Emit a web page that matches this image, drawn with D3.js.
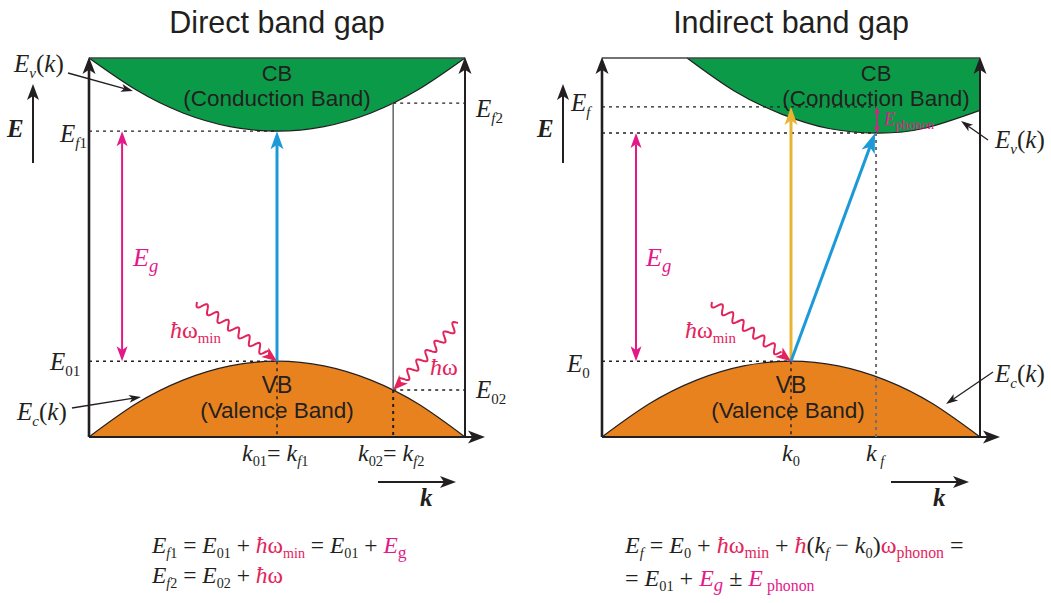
<!DOCTYPE html>
<html><head><meta charset="utf-8">
<script src="https://cdn.jsdelivr.net/npm/d3@7"></script>
<style>html,body{margin:0;padding:0;background:#fff}svg{display:block}</style>
</head><body>
<svg id="c" width="1051" height="603"></svg>
<script>
// ---------- data (k normalised 0..1 per panel, E normalised 0..1) ----------
const titles = ["Direct band gap", "Indirect band gap"];
const kGrid = [0, 0.125, 0.25, 0.375, 0.5, 0.625, 0.75, 0.875, 1];
const cbDirectE = [1.0, 0.916, 0.855, 0.819, 0.807, 0.819, 0.855, 0.916, 1.0];
const vbE = [0, 0.0875, 0.15, 0.1875, 0.2, 0.1875, 0.15, 0.0875, 0];
const cbIndirectK = [0.225, 0.35, 0.475, 0.6, 0.725, 0.85, 1.0];
const cbIndirectE = [1.0, 0.913, 0.852, 0.814, 0.802, 0.814, 0.862];
const directK = [0.5, 0.809];        // k01 = kf1, k02 = kf2
const directEf = [0.807, 0.881];     // Ef1, Ef2
const directE0 = [0.2, 0.124];       // E01, E02
const indirectK = [0.5, 0.725];      // k0, kf
const indirectE = [0.2, 0.871, 0.802]; // E0, Ef, CB minimum

// ---------- setup ----------
const svg = d3.select("#c");
const SERIF = "'Liberation Serif','Times New Roman',serif";
const SANS = "'Liberation Sans',Arial,sans-serif";
const INK = "#231f20";
const GREEN = "#0b9a48", ORANGE = "#e8821e", BLUE = "#1c9ad8", YELLOW = "#e9b432";
const MAG = "#e3198a", RED = "#e3245c";

const y = d3.scaleLinear().domain([0, 1]).range([437, 58]);
const xs = [d3.scaleLinear().domain([0, 1]).range([89, 465]),
            d3.scaleLinear().domain([0, 1]).range([602, 980])];

function head(g, tx, ty, dx, dy, len, wid, color) {
  const L = Math.hypot(dx, dy), ux = dx / L, uy = dy / L, nx = -uy, ny = ux;
  const bx = tx - ux * len, by = ty - uy * len;
  const mx = tx - ux * len * 0.75, my = ty - uy * len * 0.75;
  g.append("path").attr("d", `M${tx},${ty}L${bx + nx * wid / 2},${by + ny * wid / 2}L${mx},${my}L${bx - nx * wid / 2},${by - ny * wid / 2}Z`)
    .attr("fill", color);
  return [mx, my];
}
function arrow(g, x0, y0, x1, y1, color, w, len, wid) {
  const [mx, my] = head(g, x1, y1, x1 - x0, y1 - y0, len, wid, color);
  g.append("line").attr("x1", x0).attr("y1", y0).attr("x2", mx).attr("y2", my)
    .attr("stroke", color).attr("stroke-width", w);
}
function dbl(g, x0, y0, x1, y1, color, w, len, wid) {
  const [ax, ay] = head(g, x0, y0, x0 - x1, y0 - y1, len, wid, color);
  const [bx, by] = head(g, x1, y1, x1 - x0, y1 - y0, len, wid, color);
  g.append("line").attr("x1", ax).attr("y1", ay).attr("x2", bx).attr("y2", by)
    .attr("stroke", color).attr("stroke-width", w);
}
function dashed(g, x0, y0, x1, y1, color, w) {
  g.append("line").attr("x1", x0).attr("y1", y0).attr("x2", x1).attr("y2", y1)
    .attr("stroke", color || INK).attr("stroke-width", w || 1.4).attr("stroke-dasharray", "3,4");
}
function wave(g, x0, y0, x1, y1, color) {
  const dx = x1 - x0, dy = y1 - y0, L = Math.hypot(dx, dy);
  const ux = dx / L, uy = dy / L, nx = -uy, ny = ux;
  const hl = 15, Lw = L - hl + 2, pts = [];
  for (let s = 0; s <= Lw; s += 0.5) {
    const a = 4.2 * Math.sin(2 * Math.PI * s / 13);
    pts.push([x0 + ux * s + nx * a, y0 + uy * s + ny * a]);
  }
  g.append("path").attr("d", d3.line()(pts)).attr("fill", "none").attr("stroke", color).attr("stroke-width", 2);
  head(g, x1, y1, dx, dy, hl, 12, color);
}
// rich text: parts = {t, i italic, b bold, s subscript, ss sub scale, c colour}
function rich(g, x, yy, size, parts, anchor) {
  const t = g.append("text").attr("x", x).attr("y", yy).attr("font-family", SERIF)
    .attr("font-size", size).attr("fill", INK).attr("text-anchor", anchor || "start");
  let shift = 0;
  const subDy = size * 0.22;
  parts.forEach(p => {
    const ts = t.append("tspan").text(p.t);
    const target = p.s ? subDy : 0;
    if (target !== shift) { ts.attr("dy", target - shift); shift = target; }
    if (p.s) ts.attr("font-size", size * (p.ss || 0.6));
    if (p.i) ts.attr("font-style", "italic");
    if (p.b) ts.attr("font-weight", "bold");
    if (p.c) ts.attr("fill", p.c);
    if (p.dx) ts.attr("dx", p.dx);
  });
  return t;
}
function sans(g, x, yy, size, txt) {
  g.append("text").attr("x", x).attr("y", yy).attr("font-family", SANS).attr("font-size", size)
    .attr("fill", INK).attr("text-anchor", "middle").text(txt);
}
const HBAR = c => [{ t: "ħ", i: 1, c: c }, { t: "ω", c: c }];

const g = svg.append("g");

// ---------- bands ----------
const cbSets = [kGrid.map((k, i) => [k, cbDirectE[i]]), cbIndirectK.map((k, i) => [k, cbIndirectE[i]])];
const vbSet = kGrid.map((k, i) => [k, vbE[i]]);
[0, 1].forEach(p => {
  const x = xs[p];
  const cbArea = d3.area().x(d => x(d[0])).y0(y(1)).y1(d => y(d[1])).curve(d3.curveNatural);
  const vbArea = d3.area().x(d => x(d[0])).y0(y(0)).y1(d => y(d[1])).curve(d3.curveNatural);
  const ln = d3.line().x(d => x(d[0])).y(d => y(d[1])).curve(d3.curveNatural);
  g.append("path").attr("d", cbArea(cbSets[p])).attr("fill", GREEN);
  g.append("path").attr("d", ln(cbSets[p])).attr("fill", "none").attr("stroke", INK).attr("stroke-width", 1.2);
  g.append("path").attr("d", vbArea(vbSet)).attr("fill", ORANGE);
  g.append("path").attr("d", ln(vbSet)).attr("fill", "none").attr("stroke", INK).attr("stroke-width", 1.2);

  // frame
  g.append("line").attr("x1", x(0)).attr("x2", x(1)).attr("y1", y(1)).attr("y2", y(1)).attr("stroke", "#444").attr("stroke-width", 1.3);
  arrow(g, x(0), y(0), x(0), y(1) - 1, INK, 2.6, 17, 13);
  arrow(g, x(1), y(0), x(1), y(1) - 1, INK, 2, 17, 13);
  arrow(g, x(0), y(0), x(1) + 20, y(0), INK, 2, 17, 13);

  // titles & band labels
  sans(g, p === 0 ? 277 : 791, 33, 30.5, titles[p]);
  const cbX = p === 0 ? x(0.5) : x(indirectK[1]);
  sans(g, cbX, 81, 22, "CB");
  sans(g, cbX, 106, 22.5, "(Conduction Band)");
  sans(g, x(0.5), 393, 23, "VB");
  sans(g, x(0.5) - (p === 0 ? 0 : 3), 418, 22.5, "(Valence Band)");

  // E axis arrow
  const ex = p === 0 ? 33 : 563;
  arrow(g, ex, 163, ex, 84, INK, 2, 16, 12);
  rich(g, ex - 26, 137, 25, [{ t: "E", i: 1, b: 1 }]);
  // k axis arrow
  const kx = p === 0 ? 378 : 891;
  arrow(g, kx, 482, kx + 78, 482, INK, 2, 16, 12);
  rich(g, kx + 42, 506, 25, [{ t: "k", i: 1, b: 1 }]);
});

// ---------- direct panel ----------
{
  const x = xs[0];
  dbl(g, x(0.088), y(directEf[0]), x(0.088), y(directE0[0]), MAG, 2, 15, 11);
  dashed(g, x(0), y(directEf[0]), x(directK[0]), y(directEf[0]));
  dashed(g, x(0), y(directE0[0]), x(directK[0]), y(directE0[0]));
  dashed(g, x(directK[0]), y(directE0[0]), x(directK[0]), y(0));
  arrow(g, x(directK[0]), y(directE0[0]), x(directK[0]), y(directEf[0]), BLUE, 3, 18, 13);
  g.append("line").attr("x1", x(directK[1])).attr("x2", x(directK[1])).attr("y1", y(directE0[1])).attr("y2", y(directEf[1]))
    .attr("stroke", "#6d6e71").attr("stroke-width", 1.6);
  dashed(g, x(directK[1]), y(directE0[1]), x(directK[1]), y(0), INK, 2);
  dashed(g, x(directK[1]), y(directEf[1]), x(1), y(directEf[1]));
  dashed(g, x(directK[1]), y(directE0[1]), x(1), y(directE0[1]));
  wave(g, 197, 302, x(directK[0]), y(directE0[0]), RED);
  rich(g, 170, 338, 24, HBAR(RED).concat([{ t: "min", s: 1, c: RED, ss: 0.62 }]));
  wave(g, 458, 323, x(directK[1]), y(directE0[1]), RED);
  rich(g, 430, 375, 24, HBAR(RED));
  rich(g, 133, 266, 26, [{ t: "E", i: 1, c: MAG }, { t: "g", s: 1, i: 1, c: MAG, ss: 0.72 }]);
  rich(g, 60, 142, 25, [{ t: "E", i: 1 }, { t: "f", i: 1, s: 1 }, { t: "1", s: 1 }]);
  rich(g, 50, 370, 25, [{ t: "E", i: 1 }, { t: "01", s: 1 }]);
  rich(g, 476, 117, 25, [{ t: "E", i: 1 }, { t: "f", i: 1, s: 1 }, { t: "2", s: 1 }]);
  rich(g, 476, 398, 25, [{ t: "E", i: 1 }, { t: "02", s: 1 }]);
  rich(g, 14, 72, 25, [{ t: "E", i: 1 }, { t: "v", i: 1, s: 1 }, { t: "(" }, { t: "k", i: 1 }, { t: ")" }]);
  arrow(g, 68, 73, 133, 91, INK, 1.3, 12, 8);
  rich(g, 17, 420, 25, [{ t: "E", i: 1 }, { t: "c", i: 1, s: 1 }, { t: "(" }, { t: "k", i: 1 }, { t: ")" }]);
  arrow(g, 72, 408, 141, 397, INK, 1.3, 12, 8);
  rich(g, 242, 461, 24, [{ t: "k", i: 1 }, { t: "01", s: 1 }, { t: "= " }, { t: "k", i: 1 }, { t: "f", i: 1, s: 1 }, { t: "1", s: 1 }]);
  rich(g, 358, 461, 24, [{ t: "k", i: 1 }, { t: "02", s: 1 }, { t: "= " }, { t: "k", i: 1 }, { t: "f", i: 1, s: 1 }, { t: "2", s: 1 }]);
}

// ---------- indirect panel ----------
{
  const x = xs[1];
  const [E0, Ef, Ecb] = indirectE;
  const [k0, kf] = indirectK;
  dashed(g, x(0), y(Ef), x(kf), y(Ef));
  dashed(g, x(0), y(Ecb), x(kf), y(Ecb));
  dashed(g, x(0), y(E0), x(k0), y(E0));
  dashed(g, x(k0), y(E0), x(k0), y(0));
  dashed(g, x(kf), y(Ecb), x(kf), y(0), "#6d6e71", 2);
  dbl(g, x(0.09), y(Ecb), x(0.09), y(E0), MAG, 2, 15, 11);
  dbl(g, x(kf) + 1, y(Ef), x(kf) + 1, y(Ecb), MAG, 1.5, 7, 6);
  arrow(g, x(k0), y(E0), x(k0), y(Ef), YELLOW, 3, 18, 13);
  arrow(g, x(k0), y(E0), x(kf) - 1, y(Ecb), BLUE, 3, 20, 14);
  wave(g, 712, 302, x(k0), y(E0), RED);
  rich(g, 685, 338, 24, HBAR(RED).concat([{ t: "min", s: 1, c: RED, ss: 0.62 }]));
  rich(g, 646, 266, 26, [{ t: "E", i: 1, c: MAG }, { t: "g", s: 1, i: 1, c: MAG, ss: 0.72 }]);
  rich(g, 884, 125, 18, [{ t: "E", i: 1, c: MAG }, { t: "phonon", s: 1, c: MAG, ss: 0.72 }]);
  rich(g, 571, 111, 25, [{ t: "E", i: 1 }, { t: "f", i: 1, s: 1 }]);
  rich(g, 567, 372, 25, [{ t: "E", i: 1 }, { t: "0", s: 1 }]);
  rich(g, 995, 148, 25, [{ t: "E", i: 1 }, { t: "v", i: 1, s: 1 }, { t: "(" }, { t: "k", i: 1 }, { t: ")" }]);
  arrow(g, 988, 140, 961, 121, INK, 1.3, 12, 8);
  rich(g, 995, 382, 25, [{ t: "E", i: 1 }, { t: "c", i: 1, s: 1 }, { t: "(" }, { t: "k", i: 1 }, { t: ")" }]);
  arrow(g, 993, 372, 946, 404, INK, 1.3, 12, 8);
  rich(g, x(k0), 461, 24, [{ t: "k", i: 1 }, { t: "0", s: 1 }], "middle");
  rich(g, x(kf) - 1, 461, 24, [{ t: "k", i: 1 }, { t: " f", i: 1, s: 1 }], "middle");
}

// ---------- equations ----------
rich(g, 152, 553, 23.5, [
  { t: "E", i: 1 }, { t: "f", i: 1, s: 1 }, { t: "1", s: 1 }, { t: " = " }, { t: "E", i: 1 }, { t: "01", s: 1 },
  { t: " + " }].concat(HBAR(RED), [{ t: "min", s: 1, c: RED }, { t: " = " }, { t: "E", i: 1 }, { t: "01", s: 1 },
  { t: " + " }, { t: "E", i: 1, c: MAG }, { t: "g", s: 1, c: MAG, ss: 0.75 }]));
rich(g, 152, 583, 23.5, [
  { t: "E", i: 1 }, { t: "f", i: 1, s: 1 }, { t: "2", s: 1 }, { t: " = " }, { t: "E", i: 1 }, { t: "02", s: 1 },
  { t: " + " }].concat(HBAR(RED)));
rich(g, 625, 553, 24, [
  { t: "E", i: 1 }, { t: "f", i: 1, s: 1 }, { t: " = " }, { t: "E", i: 1 }, { t: "0", s: 1 },
  { t: " + " }].concat(HBAR(RED), [{ t: "min", s: 1, c: RED, ss: 0.66 }, { t: " + " }, { t: "ħ", i: 1, c: RED },
  { t: "(" }, { t: "k", i: 1 }, { t: "f", i: 1, s: 1 }, { t: " − " }, { t: "k", i: 1 }, { t: "0", s: 1 }, { t: ")" },
  { t: "ω", c: RED }, { t: "phonon", s: 1, c: RED, ss: 0.66 }, { t: " =" }]));
rich(g, 625, 586, 24, [
  { t: "= " }, { t: "E", i: 1 }, { t: "01", s: 1 }, { t: " + " }, { t: "E", i: 1, c: MAG }, { t: "g", s: 1, i: 1, c: MAG, ss: 0.78 },
  { t: " ± " }, { t: "E", i: 1, c: MAG }, { t: " phonon", s: 1, c: MAG, ss: 0.66 }]);
</script>
</body></html>
